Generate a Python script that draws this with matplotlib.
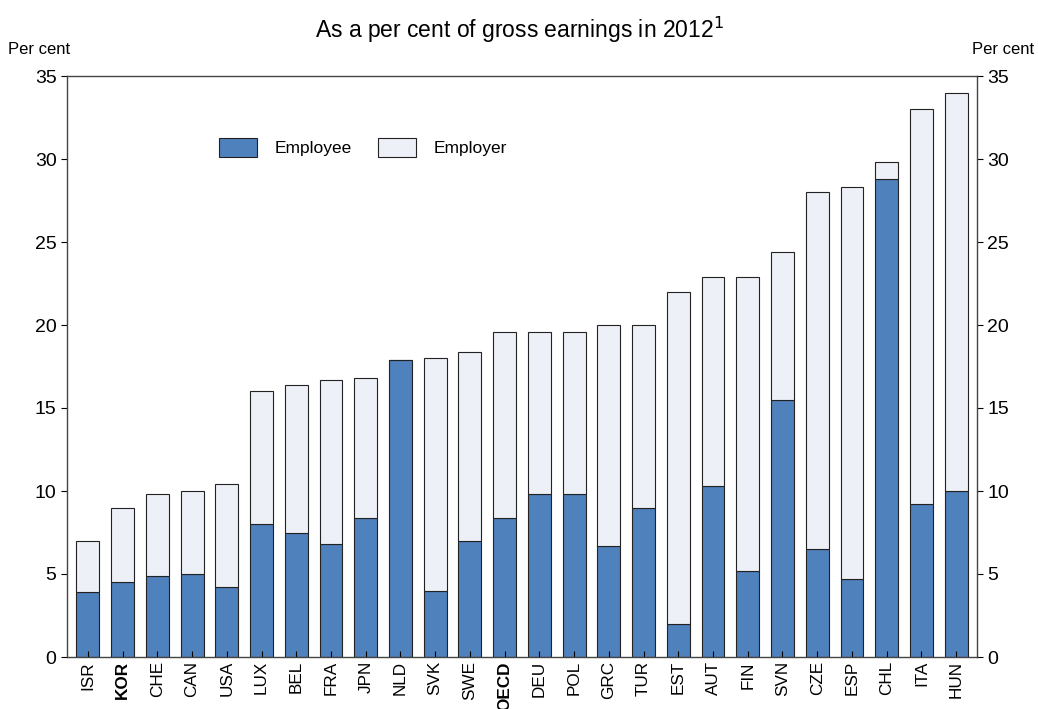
import numpy as np
import matplotlib.pyplot as plt

countries = ["ISR", "KOR", "CHE", "CAN", "USA", "LUX", "BEL", "FRA", "JPN", "NLD",
             "SVK", "SWE", "OECD", "DEU", "POL", "GRC", "TUR", "EST", "AUT", "FIN",
             "SVN", "CZE", "ESP", "CHL", "ITA", "HUN"]
employee = [3.9, 4.5, 4.9, 5.0, 4.2, 8.0, 7.5, 6.8, 8.4, 17.9,
            4.0, 7.0, 8.4, 9.8, 9.8, 6.7, 9.0, 2.0, 10.3, 5.2,
            15.5, 6.5, 4.7, 28.8, 9.2, 10.0]
total = [7.0, 9.0, 9.8, 10.0, 10.4, 16.0, 16.4, 16.7, 16.8, 17.9,
         18.0, 18.4, 19.6, 19.6, 19.6, 20.0, 20.0, 22.0, 22.9, 22.9,
         24.4, 28.0, 28.3, 29.8, 33.0, 34.0]
employer = [t - e for t, e in zip(total, employee)]
bold_labels = ["KOR", "OECD"]

plt.rcParams["font.family"] = ["Liberation Sans", "DejaVu Sans"]

fig = plt.figure(figsize=(10.38, 7.09), dpi=100)
ax = fig.add_axes([67 / 1038, 1 - 657 / 709, (977 - 67) / 1038, (657 - 76) / 709])

x = np.arange(len(countries))
ax.bar(x, employee, width=0.66, color="#4f81bd", edgecolor="#222222", linewidth=0.8,
       label="Employee")
ax.bar(x, employer, bottom=employee, width=0.66, color="#eef0f8", edgecolor="#222222",
       linewidth=0.8, label="Employer")

ax.set_xlim(-0.6, len(countries) - 0.4)
ax.set_ylim(0, 35)
ax.set_yticks(range(0, 36, 5))
ax.tick_params(axis="y", labelsize=14, direction="out", length=4, right=True, labelright=True)
ax.set_xticks(x)
ax.set_xticklabels(countries, rotation=90, fontsize=12.3)
for lbl in ax.get_xticklabels():
    if lbl.get_text() in bold_labels:
        lbl.set_fontweight("bold")
ax.tick_params(axis="x", direction="in", length=4, pad=3)

for s in ax.spines.values():
    s.set_color("#444444")
    s.set_linewidth(1.0)

ax.legend(loc="upper left", bbox_to_anchor=(0.15, 0.92), ncol=2, frameon=False,
          fontsize=12.5, handlelength=2.2, handleheight=1.3, handletextpad=1.0,
          columnspacing=1.5)

fig.text(0.5, 1 - 30 / 709, "As a per cent of gross earnings in 2012$^{1}$",
         ha="center", va="center", fontsize=16.5)
fig.text(8 / 1038, 1 - 50 / 709, "Per cent", ha="left", va="center", fontsize=12)
fig.text(1034 / 1038, 1 - 50 / 709, "Per cent", ha="right", va="center", fontsize=12)

plt.savefig("out.png", dpi=100)
